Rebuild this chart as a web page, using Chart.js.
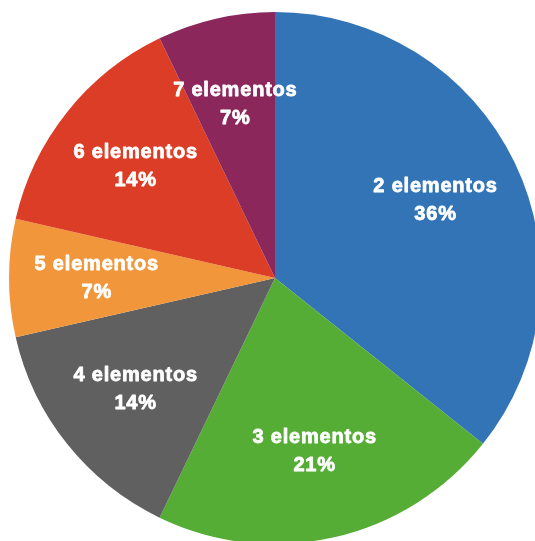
<!DOCTYPE html>
<html lang="es">
  <head>
    <meta charset="UTF-8" />
    <title>Elementos</title>
    <script src="https://cdn.jsdelivr.net/npm/chart.js"></script>
    <style>
      html, body { margin: 0; padding: 0; background: #fff; overflow: hidden; }
      #wrap { position: absolute; left: 0; top: 3px; width: 550px; height: 550px; }
    </style>
  </head>
  <body>
    <div id="wrap"><canvas id="pieChart"></canvas></div>

    <script>
      const categories = ["2 elementos", "3 elementos", "4 elementos", "5 elementos", "6 elementos", "7 elementos"];
      const counts = [5, 3, 2, 1, 2, 1];
      const colors = ["#3274b6", "#56ad35", "#606060", "#f1963a", "#dc3d26", "#8b275a"];

      // name + rounded share inside each slice
      const sliceLabels = {
        id: "sliceLabels",
        afterDatasetsDraw(chart) {
          const ctx = chart.ctx;
          const total = counts.reduce((a, b) => a + b, 0);
          const meta = chart.getDatasetMeta(0);
          ctx.save();
          ctx.fillStyle = "#fff";
          ctx.strokeStyle = "#fff";
          ctx.lineWidth = 0.8;
          ctx.lineJoin = "round";
          ctx.font = "bold 20px 'Liberation Sans', Arial, sans-serif";
          ctx.letterSpacing = "0.8px";
          ctx.textAlign = "center";
          ctx.textBaseline = "middle";
          meta.data.forEach((arc, i) => {
            const p = arc.getProps(["x", "y", "startAngle", "endAngle", "outerRadius"]);
            const mid = (p.startAngle + p.endAngle) / 2;
            const r = p.outerRadius * 0.67;
            const x = p.x + Math.cos(mid) * r;
            const y = p.y + Math.sin(mid) * r;
            const pct = Math.round((counts[i] / total) * 100) + "%";
            [[categories[i], y - 14], [pct, y + 14]].forEach(([t, ty]) => {
              ctx.strokeText(t, x, ty);
              ctx.fillText(t, x, ty);
            });
          });
          ctx.restore();
        },
      };

      const ctx = document.getElementById("pieChart").getContext("2d");
      new Chart(ctx, {
        type: "pie",
        data: {
          labels: categories,
          datasets: [
            {
              data: counts,
              backgroundColor: colors,
              borderWidth: 0,
            },
          ],
        },
        options: {
          responsive: true,
          maintainAspectRatio: false,
          animation: false,
          layout: { padding: 9 },
          plugins: {
            legend: { display: false },
            tooltip: { enabled: false },
          },
        },
        plugins: [sliceLabels],
      });
    </script>
  </body>
</html>
